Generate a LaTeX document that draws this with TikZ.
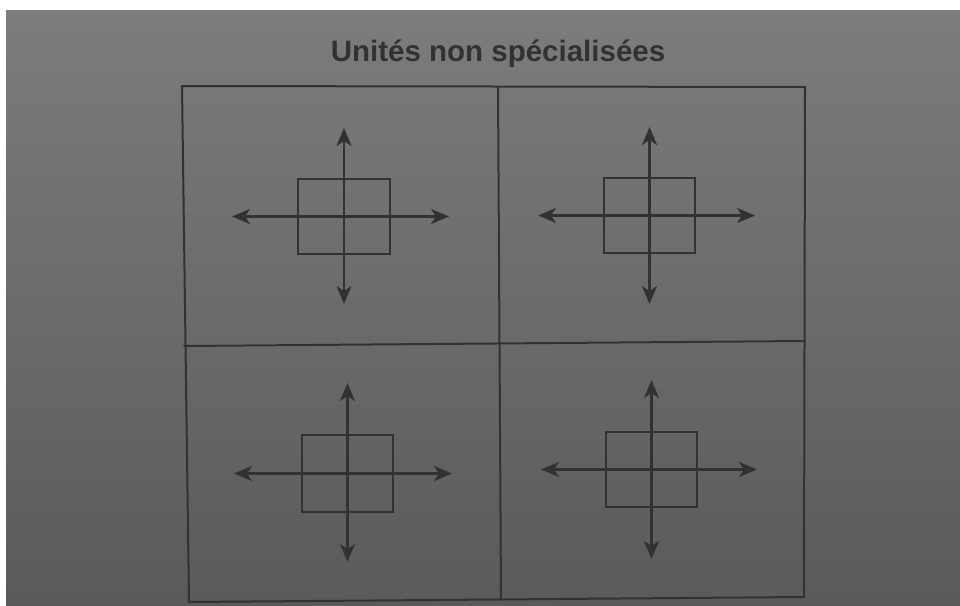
\documentclass[tikz,border=0pt]{standalone}
\usepackage{fontspec}
\setmainfont{Liberation Sans}
\usetikzlibrary{arrows.meta}
\definecolor{ink}{RGB}{50,50,50}
\definecolor{bgtop}{RGB}{124,124,124}
\definecolor{bgmid}{RGB}{130,130,130}
\definecolor{bgbot}{RGB}{90,90,90}
\tikzset{
  frameline/.style={draw=ink, line width=2pt},
  unitbox/.style={draw=ink, line width=2pt},
  axisarrow/.style={draw=ink, line width=2.2pt, {Stealth[length=18pt,width=15pt,inset=5pt]}-{Stealth[length=18pt,width=15pt,inset=5pt]}},
  titletext/.style={text=ink, font=\bfseries\fontsize{29.5}{34}\selectfont, inner sep=0pt}
}
\newcommand{\unitcross}[9]{%
  % #1 name, #2,#3 square corner 1, #4,#5 square corner 2, #6 left x, #7 right x, #8 top y, #9 bottom y
  \draw[unitbox] (#2,#3) rectangle (#4,#5);
  \coordinate (#1c) at ({(#2+#4)/2},{(#3+#5)/2});
  \coordinate (#1l) at (#6,{(#3+#5)/2});
  \coordinate (#1r) at (#7,{(#3+#5)/2});
  \coordinate (#1t) at ({(#2+#4)/2},#8);
  \coordinate (#1b) at ({(#2+#4)/2},#9);
  \draw[axisarrow] (#1l) -- (#1r);
  \draw[axisarrow] (#1t) -- (#1b);
}
\begin{document}
\begin{tikzpicture}[x=1pt,y=-1pt]
\useasboundingbox (0,0) rectangle (960,605);
\fill[white] (0,0) rectangle (960,605);
\shade[top color=bgtop, middle color=bgmid, bottom color=bgbot] (6,10) rectangle (960,605);
% title
\node[titletext] (title) at (498,54) {Unités non spécialisées};
% frame
\coordinate (tl) at (182,86);
\coordinate (tr) at (805,87);
\coordinate (br) at (804,597);
\coordinate (bl) at (189,602);
\draw[frameline] (tl) -- (tr) -- (br) -- (bl) -- cycle;
\coordinate (vt) at (498,86.5);
\coordinate (vb) at (501,600);
\coordinate (hl) at (183.5,346);
\coordinate (hr) at (804.5,341);
\draw[frameline] (vt) -- (vb);
\draw[frameline] (hl) -- (hr);
% units
\unitcross{a}{298}{179}{390}{254}{232}{449}{128}{304}
\unitcross{b}{604}{178}{695}{253}{538}{755}{127}{304}
\unitcross{c}{302}{435}{393}{512}{234}{452}{383}{562}
\unitcross{d}{606}{432}{697}{507}{541}{757}{380}{559}
\end{tikzpicture}
\end{document}
